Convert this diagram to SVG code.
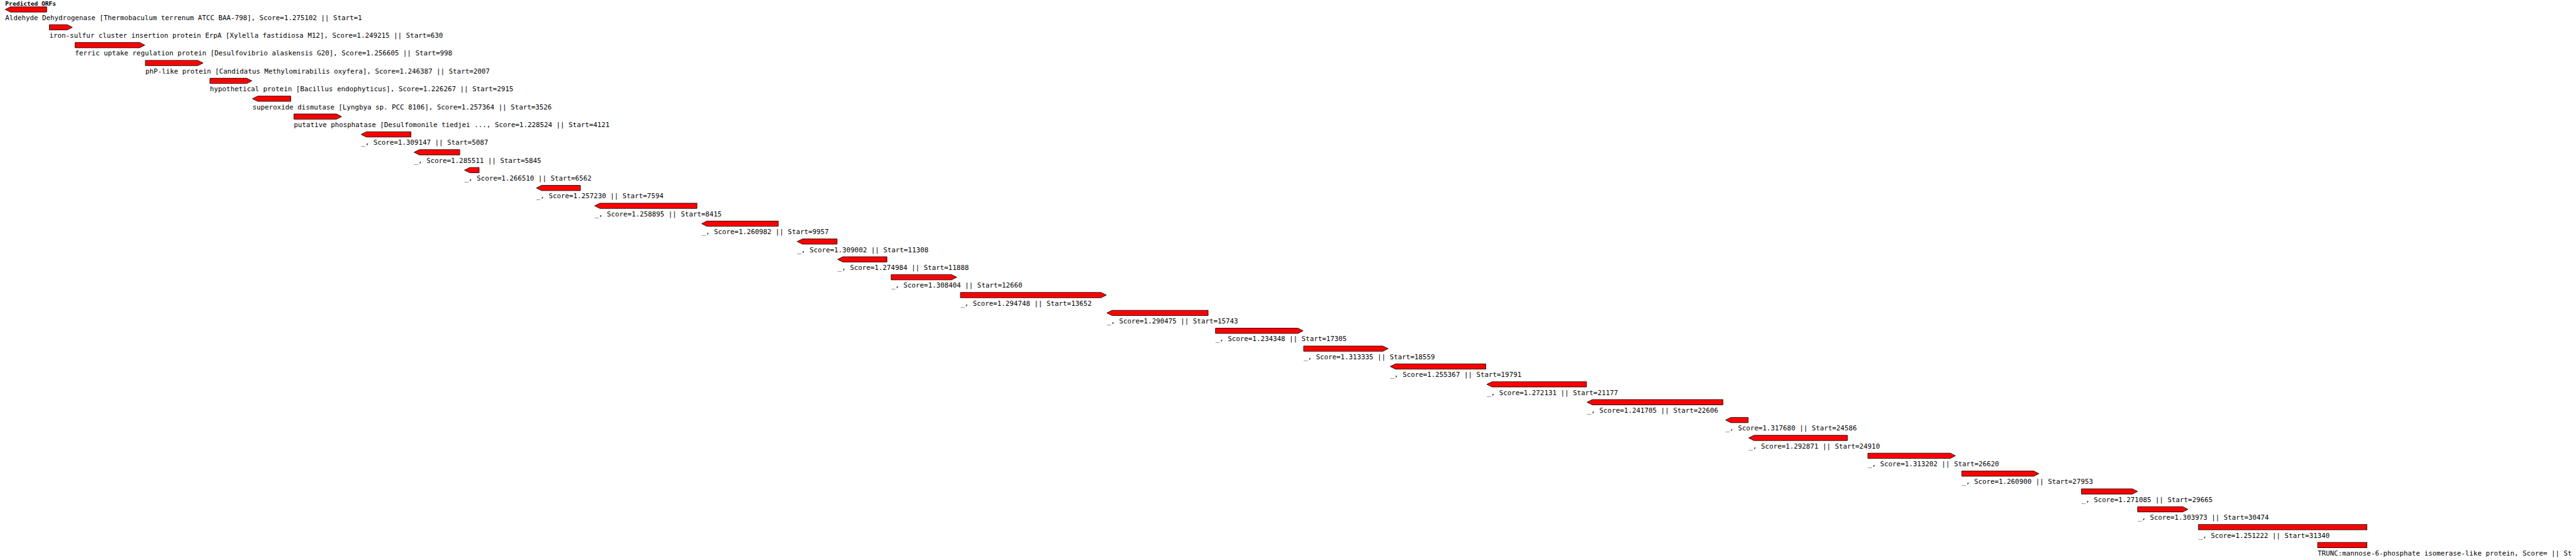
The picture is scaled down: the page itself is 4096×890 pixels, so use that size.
<svg xmlns="http://www.w3.org/2000/svg" width="4096" height="890" viewBox="0 0 4096 890">
<style>
.orf{fill:#ff0000;stroke:#000000;stroke-width:1}
.lbl{font-family:"DejaVu Sans Mono","Liberation Mono",monospace;font-size:13px;fill:#000000}
.title{font-family:"DejaVu Sans Mono","Liberation Mono",monospace;font-size:11.5px;font-weight:bold;fill:#000000}
</style>
<rect x="0" y="0" width="4096" height="890" fill="#ffffff"/>
<g transform="scale(0.8345)">
<g id="title"><text class="title" x="10" y="11">Predicted ORFs</text></g>
<g id="orf0"><polygon class="orf" points="10,18 20,13 89,13 89,23 20,23"/><text class="lbl" x="10" y="38">Aldehyde Dehydrogenase [Thermobaculum terrenum ATCC BAA-798], Score=1.275102 || Start=1</text></g>
<g id="orf1"><polygon class="orf" points="94,47 128,47 138,52 128,57 94,57"/><text class="lbl" x="94" y="72">iron-sulfur cluster insertion protein ErpA [Xylella fastidiosa M12], Score=1.249215 || Start=630</text></g>
<g id="orf2"><polygon class="orf" points="143,81 266,81 276,86 266,91 143,91"/><text class="lbl" x="143" y="106">ferric uptake regulation protein [Desulfovibrio alaskensis G20], Score=1.256605 || Start=998</text></g>
<g id="orf3"><polygon class="orf" points="277,115 377,115 387,120 377,125 277,125"/><text class="lbl" x="277" y="140">phP-like protein [Candidatus Methylomirabilis oxyfera], Score=1.246387 || Start=2007</text></g>
<g id="orf4"><polygon class="orf" points="400,149 470,149 480,154 470,159 400,159"/><text class="lbl" x="400" y="174">hypothetical protein [Bacillus endophyticus], Score=1.226267 || Start=2915</text></g>
<g id="orf5"><polygon class="orf" points="481,188 491,183 554,183 554,193 491,193"/><text class="lbl" x="481" y="208">superoxide dismutase [Lyngbya sp. PCC 8106], Score=1.257364 || Start=3526</text></g>
<g id="orf6"><polygon class="orf" points="560,217 641,217 651,222 641,227 560,227"/><text class="lbl" x="560" y="242">putative phosphatase [Desulfomonile tiedjei ..., Score=1.228524 || Start=4121</text></g>
<g id="orf7"><polygon class="orf" points="688,256 698,251 783,251 783,261 698,261"/><text class="lbl" x="688" y="276">_, Score=1.309147 || Start=5087</text></g>
<g id="orf8"><polygon class="orf" points="789,290 799,285 876,285 876,295 799,295"/><text class="lbl" x="789" y="310">_, Score=1.285511 || Start=5845</text></g>
<g id="orf9"><polygon class="orf" points="885,324 895,319 913,319 913,329 895,329"/><text class="lbl" x="885" y="344">_, Score=1.266510 || Start=6562</text></g>
<g id="orf10"><polygon class="orf" points="1022,358 1032,353 1106,353 1106,363 1032,363"/><text class="lbl" x="1022" y="378">_, Score=1.257230 || Start=7594</text></g>
<g id="orf11"><polygon class="orf" points="1133,392 1143,387 1328,387 1328,397 1143,397"/><text class="lbl" x="1133" y="412">_, Score=1.258895 || Start=8415</text></g>
<g id="orf12"><polygon class="orf" points="1337,426 1347,421 1483,421 1483,431 1347,431"/><text class="lbl" x="1337" y="446">_, Score=1.260982 || Start=9957</text></g>
<g id="orf13"><polygon class="orf" points="1519,460 1529,455 1595,455 1595,465 1529,465"/><text class="lbl" x="1519" y="480">_, Score=1.309002 || Start=11308</text></g>
<g id="orf14"><polygon class="orf" points="1596,494 1606,489 1690,489 1690,499 1606,499"/><text class="lbl" x="1596" y="514">_, Score=1.274984 || Start=11888</text></g>
<g id="orf15"><polygon class="orf" points="1698,523 1813,523 1823,528 1813,533 1698,533"/><text class="lbl" x="1698" y="548">_, Score=1.308404 || Start=12660</text></g>
<g id="orf16"><polygon class="orf" points="1830,557 2098,557 2108,562 2098,567 1830,567"/><text class="lbl" x="1830" y="582">_, Score=1.294748 || Start=13652</text></g>
<g id="orf17"><polygon class="orf" points="2109,596 2119,591 2302,591 2302,601 2119,601"/><text class="lbl" x="2109" y="616">_, Score=1.290475 || Start=15743</text></g>
<g id="orf18"><polygon class="orf" points="2316,625 2473,625 2483,630 2473,635 2316,635"/><text class="lbl" x="2316" y="650">_, Score=1.234348 || Start=17305</text></g>
<g id="orf19"><polygon class="orf" points="2484,659 2635,659 2645,664 2635,669 2484,669"/><text class="lbl" x="2484" y="684">_, Score=1.313335 || Start=18559</text></g>
<g id="orf20"><polygon class="orf" points="2649,698 2659,693 2831,693 2831,703 2659,703"/><text class="lbl" x="2649" y="718">_, Score=1.255367 || Start=19791</text></g>
<g id="orf21"><polygon class="orf" points="2833,732 2843,727 3023,727 3023,737 2843,737"/><text class="lbl" x="2833" y="752">_, Score=1.272131 || Start=21177</text></g>
<g id="orf22"><polygon class="orf" points="3024,766 3034,761 3283,761 3283,771 3034,771"/><text class="lbl" x="3024" y="786">_, Score=1.241705 || Start=22606</text></g>
<g id="orf23"><polygon class="orf" points="3288,800 3298,795 3331,795 3331,805 3298,805"/><text class="lbl" x="3288" y="820">_, Score=1.317680 || Start=24586</text></g>
<g id="orf24"><polygon class="orf" points="3332,834 3342,829 3520,829 3520,839 3342,839"/><text class="lbl" x="3332" y="854">_, Score=1.292871 || Start=24910</text></g>
<g id="orf25"><polygon class="orf" points="3559,863 3716,863 3726,868 3716,873 3559,873"/><text class="lbl" x="3559" y="888">_, Score=1.313202 || Start=26620</text></g>
<g id="orf26"><polygon class="orf" points="3738,897 3875,897 3885,902 3875,907 3738,907"/><text class="lbl" x="3738" y="922">_, Score=1.260900 || Start=27953</text></g>
<g id="orf27"><polygon class="orf" points="3966,931 4063,931 4073,936 4063,941 3966,941"/><text class="lbl" x="3966" y="956">_, Score=1.271085 || Start=29665</text></g>
<g id="orf28"><polygon class="orf" points="4073,965 4159,965 4169,970 4159,975 4073,975"/><text class="lbl" x="4073" y="990">_, Score=1.303973 || Start=30474</text></g>
<g id="orf29"><rect class="orf" x="4189" y="999" width="321" height="10"/><text class="lbl" x="4189" y="1024">_, Score=1.251222 || Start=31340</text></g>
<g id="orf30"><rect class="orf" x="4416" y="1033" width="94" height="10"/><text class="lbl" x="4416" y="1058">TRUNC:mannose-6-phosphate isomerase-like protein, Score= || St</text></g>
</g>
</svg>
